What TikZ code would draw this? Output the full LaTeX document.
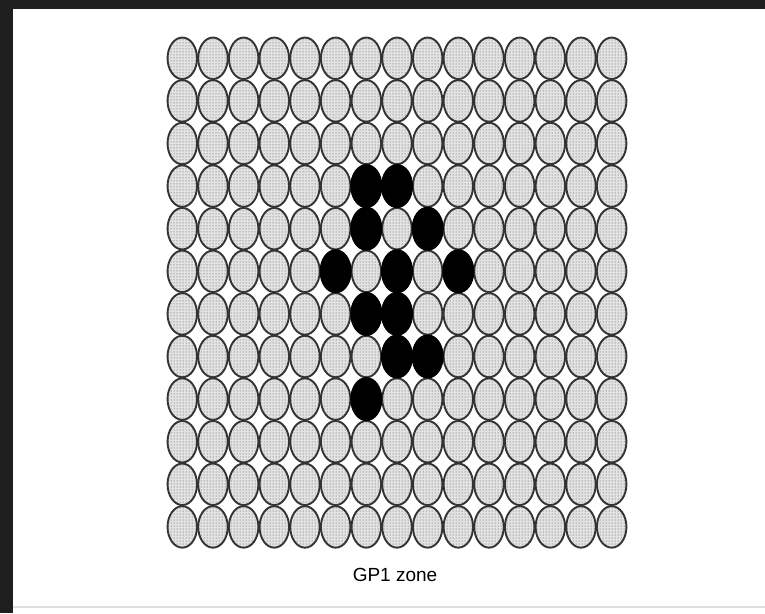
\documentclass[tikz,border=0pt]{standalone}
\usepackage{fontspec}
\setmainfont{Liberation Sans}
\usetikzlibrary{shapes.geometric,patterns}
\definecolor{framec}{HTML}{1E1E1E}
\begin{document}
\begin{tikzpicture}[x=1pt,y=-1pt,
  cell/.style={ellipse, minimum width=29.5pt, minimum height=41.5pt, inner sep=0pt,
    draw=gray!40!black, line width=1.9pt, fill=gray!22,
    postaction={pattern=dots, pattern color=gray!55!black}},
  hit/.style={ellipse, minimum width=31pt, minimum height=43pt, inner sep=0pt,
    fill=black, draw=black, line width=1pt},
  lbl/.style={font=\fontsize{19}{22}\selectfont, text=black}]
\useasboundingbox (0,0) rectangle (765,613);
\fill[white] (0,0) rectangle (765,613);
% frame
\fill[framec] (0,0) rectangle (765,9);
\fill[framec] (0,0) rectangle (13,613);
\draw[gray!25, line width=1.5pt] (13,607) -- (765,607);
% grid
\foreach \r in {0,...,11}{
  \foreach \c in {0,...,14}{
    \node[cell] (e-\r-\c) at ({182.3+30.67*\c},{58.3+42.6*\r}) {};
  }
}
% black cells
\foreach \r/\c in {3/6,3/7,4/6,4/8,5/5,5/7,5/9,6/6,6/7,7/7,7/8,8/6}{
  \node[hit] (b-\r-\c) at (e-\r-\c) {};
}
\node[lbl] (label) at (395,575) {GP1 zone};
\end{tikzpicture}
\end{document}
